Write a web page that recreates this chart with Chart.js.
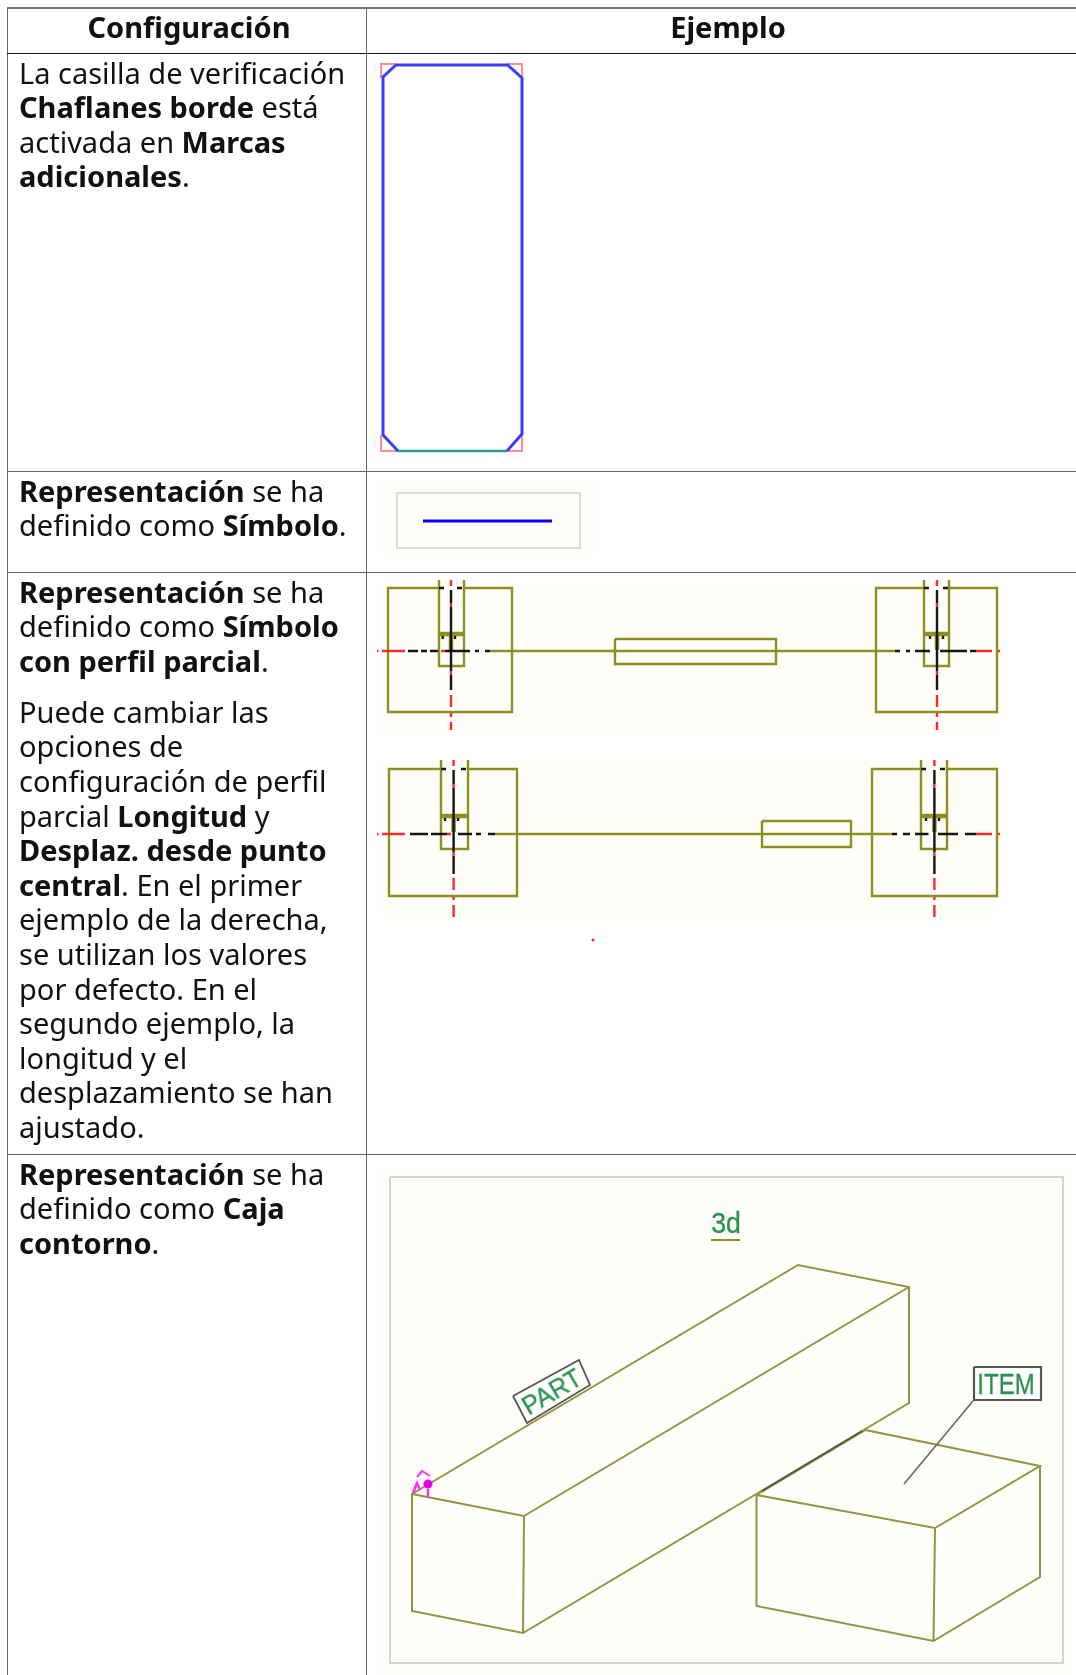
<!DOCTYPE html>
<html lang="es">
<head>
<meta charset="utf-8">
<title>Configuración</title>
<script src="https://cdn.jsdelivr.net/npm/chart.js@4"></script>
<style>
html, body { margin: 0; padding: 0; background: #fff; }
#page { position: relative; width: 1076px; height: 1675px; overflow: hidden; font-family: "Noto Sans", sans-serif; color: #111; }
table { position: absolute; left: 7px; top: 7px; width: 1082px; border-collapse: collapse; table-layout: fixed; font-size: 29px; line-height: 34.6px; filter: blur(0.3px); }
td, th { border: 1px solid #666; vertical-align: top; padding: 0 0 0 11px; white-space: nowrap; }
th { text-align: center; vertical-align: top; padding: 1px 0 0 0; border-top: 2px solid #777; border-bottom-color: #111; }
p { margin: 0 0 16.5px 0; }
#chart { position: absolute; left: 0; top: 0; filter: blur(0.5px); }
.label { position: absolute; font-family: "Liberation Sans", sans-serif; color: #2a914f; line-height: 1; white-space: nowrap; filter: blur(0.4px); -webkit-text-stroke: 0.3px #2a914f; }
</style>
</head>
<body>
<div id="page">
<table>
<colgroup><col style="width:359px"><col style="width:723px"></colgroup>
<tr style="height:45px"><th style="padding-left:4px">Configuración</th><th>Ejemplo</th></tr>
<tr style="height:418px"><td style="padding-top:2px">La casilla de verificación<br><b>Chaflanes borde</b> está<br>activada en <b>Marcas</b><br><b>adicionales</b>.</td><td></td></tr>
<tr style="height:101px"><td style="padding-top:2px"><b>Representación</b> se ha<br>definido como <b>Símbolo</b>.</td><td></td></tr>
<tr style="height:582px"><td style="padding-top:2px"><p><b>Representación</b> se ha<br>definido como <b>Símbolo</b><br><b>con perfil parcial</b>.</p>Puede cambiar las<br>opciones de<br>configuración de perfil<br>parcial <b>Longitud</b> y<br><b>Desplaz. desde punto</b><br><b>central</b>. En el primer<br>ejemplo de la derecha,<br>se utilizan los valores<br>por defecto. En el<br>segundo ejemplo, la<br>longitud y el<br>desplazamiento se han<br>ajustado.</td><td></td></tr>
<tr style="height:560px"><td style="padding-top:2px"><b>Representación</b> se ha<br>definido como <b>Caja</b><br><b>contorno</b>.</td><td></td></tr>
</table>
<canvas id="chart" width="1076" height="1675"></canvas>
<span class="label" style="left:726px;top:1223px;font-size:29px;transform:translate(-50%,-50%) scaleX(0.92)">3d</span>
<span class="label" style="left:552px;top:1392px;font-size:25px;transform:translate(-50%,-50%) rotate(-30.5deg)">PART</span>
<span class="label" style="left:1006px;top:1384px;font-size:30px;transform:translate(-50%,-50%) scaleX(0.8)">ITEM</span>
</div>
<script>
// null = pen up
const OLIVE = "#8f8f20";
const OLIVE_LIGHT = "#939340";

// fila 1: chaflanes
const chamferCorners = [
  [381,78],[381,64],[396,64], null, [507,64],[522,64],[522,78], null,
  [522,434],[522,451],[507,451], null, [398,451],[381,451],[381,435]
];
const chamferBlue = [[398,451],[383,435],[383,77],[396,65],[507.6,65],[522,78],[522,434],[507,451]];
const chamferTeal = [[398,451],[507,451]];

// fila 2: símbolo
const symbolPaper = [[376,478],[600,478],[600,558],[376,558],[376,478]];
const symbolFrame = [[397,493],[580,493],[580,548],[397,548],[397,493]];
const symbolLine = [[423,521],[552,521]];

// fila 3: perfil parcial, valores por defecto
const partialPaperA = [[376,580],[1001,580],[1001,738],[376,738],[376,580]];
const partialOliveA = [
  [439,588],[388,588],[388,712],[512,712],[512,588],[464,588], null,
  [924,588],[876,588],[876,712],[997,712],[997,588],[949,588], null,
  [615,639],[776,639],[776,664],[615,664],[615,639], null,
  [490,651],[895,651], null,
  [439,580],[439,666],[464,666],[464,580], null,
  [924,580],[924,666],[949,666],[949,580]
];
const partialBandA = [[439,634],[464,634], null, [924,634],[949,634], null, [451,634],[451,650], null, [937,634],[937,650]];
const partialRedA = [
  [377,651],[378.5,651], null, [382,651],[405,651], null, [441,651],[445,651], null,
  [976,651],[992,651], null, [998,651],[1000,651], null,
  [451,580],[451,586], null, [451,603],[451,607], null, [451,671],[451,675], null,
  [451,695],[451,707], null, [451,713],[451,717], null, [451,722],[451,730], null,
  [937,580],[937,586], null, [937,603],[937,607], null, [937,671],[937,675], null,
  [937,695],[937,707], null, [937,713],[937,717], null, [937,722],[937,730]
];
const partialBlackA = [
  [408,651],[418,651], null, [421,651],[427,651], null, [430,651],[438,651], null,
  [445,651],[470,651], null, [475,651],[479,651], null, [485,651],[490,651], null,
  [895,651],[900,651], null, [906,651],[910,651], null, [915,651],[930,651], null,
  [940,651],[967,651], null, [970,651],[976,651], null,
  [451,590],[451,603], null, [451,607],[451,671], null, [451,675],[451,690], null,
  [937,590],[937,603], null, [937,607],[937,671], null, [937,675],[937,690], null,
  [439,588],[444,588], null, [457,588],[462,588], null,
  [924,588],[929,588], null, [943,588],[948,588], null,
  [442.7,636],[442.7,639], null, [455,636],[455,639], null,
  [930,636],[930,639], null, [943,636],[943,639]
];

// fila 3: perfil parcial, ajustado
const partialPaperB = [[376,760],[1001,760],[1001,918],[376,918],[376,760]];
const partialOliveB = [
  [441,769],[389,769],[389,896],[517,896],[517,769],[468,769], null,
  [921,769],[872,769],[872,896],[997,896],[997,769],[947,769], null,
  [762,821],[851,821],[851,847],[762,847],[762,821], null,
  [495,834],[892,834], null,
  [441,760],[441,849],[468,849],[468,760], null,
  [921,760],[921,849],[947,849],[947,760]
];
const partialBandB = [[441,816],[468,816], null, [921,816],[947,816], null, [453.6,816],[453.6,832], null, [934.4,816],[934.4,832]];
const partialRedB = [
  [377,834],[378.5,834], null, [382,834],[405,834], null, [447,834],[451,834], null,
  [976,834],[992,834], null, [998,834],[1000,834], null,
  [453.6,760],[453.6,766], null, [453.6,784],[453.6,788], null, [453.6,852],[453.6,856], null,
  [453.6,878],[453.6,890], null, [453.6,897],[453.6,900], null, [453.6,905],[453.6,917], null,
  [934.4,760],[934.4,766], null, [934.4,784],[934.4,788], null, [934.4,852],[934.4,856], null,
  [934.4,878],[934.4,890], null, [934.4,897],[934.4,900], null, [934.4,905],[934.4,917]
];
const partialBlackB = [
  [410,834],[428,834], null, [431,834],[447,834], null, [458,834],[472,834], null,
  [476,834],[481,834], null, [488,834],[495,834], null,
  [892,834],[897,834], null, [903,834],[910,834], null, [915,834],[928.5,834], null,
  [938,834],[958,834], null, [965,834],[976,834], null,
  [453.6,770],[453.6,784], null, [453.6,788],[453.6,852], null, [453.6,856],[453.6,874], null,
  [934.4,770],[934.4,784], null, [934.4,788],[934.4,852], null, [934.4,856],[934.4,874], null,
  [441,769],[446,769], null, [461,769],[466,769], null,
  [921,769],[926,769], null, [940,769],[945,769], null,
  [445,818],[445,821], null, [458,818],[458,821], null,
  [926,818],[926,821], null, [939,818],[939,821]
];
const strayRedDot = [[593,940]];

// fila 4: caja contorno
const boxPaper = [[376,1165],[1070,1165],[1070,1675],[376,1675],[376,1165]];
const boxFrame = [[390,1177],[1063,1177],[1063,1663],[390,1663],[390,1177]];
const beamEdges = [
  [412,1494],[798,1265],[909,1287],[909,1403],[523,1633],[412,1611],[412,1494],[524,1516],[523,1633], null,
  [524,1516],[909,1287]
];
const blockEdges = [[865.5,1430],[1040,1466],[935,1528],[756.5,1495],[756.5,1606],[933.5,1641],[1040,1577],[1040,1466], null, [935,1528],[933.5,1641], null, [756.5,1495],[865.5,1430]];
const hiddenEdge = [[762,1491],[862,1431]];
const titleRule = [[711,1240],[740,1240]];
const partTag = [[513,1396],[579,1360],[590,1385],[527,1423],[513,1396]];
const itemTag = [[974,1367],[1041,1367],[1041,1400],[974,1400],[974,1367]];
const itemLeader = [[973,1401],[904,1484]];
const originArc = [[417,1477],[422,1471],[430,1476]];
const originTick = [[428,1489],[428,1497], null, [413,1493],[417,1483],[420,1490]];
const originDot = [[428,1484]];

function points(list) {
  return list.map(function (p) {
    return p ? { x: p[0], y: p[1] } : { x: NaN, y: NaN };
  });
}

function line(list, color, width) {
  return { data: points(list), showLine: true, borderColor: color, borderWidth: width, pointRadius: 0, fill: false, borderJoinStyle: "miter", tension: 0 };
}

function paper(list, fillColor, edge, width) {
  return { data: points(list), showLine: true, borderColor: edge || fillColor, borderWidth: width || 0, backgroundColor: fillColor, pointRadius: 0, fill: "shape", tension: 0 };
}

function dots(list, color, radius) {
  return { data: points(list), showLine: false, backgroundColor: color, borderWidth: 0, pointRadius: radius };
}

// de atrás hacia delante
const layers = [
  paper(symbolPaper, "#fefefa"),
  paper(partialPaperA, "#fefefa"),
  paper(partialPaperB, "#fefefa"),
  paper(boxPaper, "#fefefa"),

  line(chamferCorners, "#ff8f8f", 2),
  line(chamferBlue, "#3c3cff", 3),
  line(chamferTeal, "#2a9a8c", 2.5),

  paper(symbolFrame, "#fefefa", "#cfcfcf", 1.5),
  line(symbolLine, "#0000ff", 3),

  line(partialOliveA, OLIVE, 2.4),
  line(partialBandA, OLIVE, 4.5),
  line(partialRedA, "#ff2a2a", 2.4),
  line(partialBlackA, "#151515", 2.4),

  line(partialOliveB, OLIVE, 2.4),
  line(partialBandB, OLIVE, 4.5),
  line(partialRedB, "#ff2a2a", 2.4),
  line(partialBlackB, "#151515", 2.4),
  dots(strayRedDot, "#ff2a2a", 1.5),

  line(boxFrame, "#d4d4d0", 2),
  line(beamEdges, OLIVE_LIGHT, 2),
  line(blockEdges, OLIVE_LIGHT, 2),
  line(hiddenEdge, "#55554a", 1.6),
  line(titleRule, OLIVE, 2),
  paper(partTag, "#ffffff", "#555555", 1.8),
  paper(itemTag, "#ffffff", "#555555", 2.2),
  line(itemLeader, "#6a6a6a", 1.7),
  line(originArc, "#ff30ff", 2),
  line(originTick, "#ff30ff", 2.5),
  dots(originDot, "#f000e0", 4.5)
];

new Chart(document.getElementById("chart").getContext("2d"), {
  type: "scatter",
  data: { datasets: layers.slice().reverse() },
  options: {
    responsive: false,
    animation: false,
    events: [],
    layout: { padding: 0, autoPadding: false },
    plugins: { legend: { display: false }, title: { display: false }, tooltip: { enabled: false } },
    scales: {
      x: { type: "linear", min: 0, max: 1076, display: false },
      y: { type: "linear", min: 0, max: 1675, reverse: true, display: false }
    }
  }
});
</script>
</body>
</html>
